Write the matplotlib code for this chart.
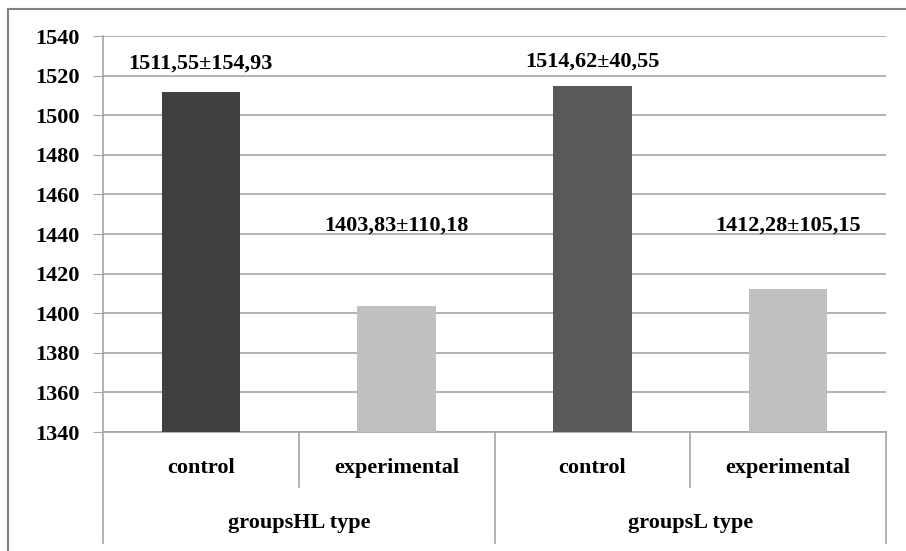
import numpy as np
import matplotlib.pyplot as plt
from matplotlib.patches import Rectangle

plt.rcParams['font.family'] = ['Liberation Serif', 'DejaVu Serif']
plt.rcParams['font.weight'] = 'bold'

categories = ["control", "experimental", "control", "experimental"]
groups = ["groupsHL type", "groupsL type"]
values = [1511.55, 1403.83, 1514.62, 1412.28]
labels = ["1511,55±154,93", "1403,83±110,18", "1514,62±40,55", "1412,28±105,15"]
label_y = [1526, 1444, 1527, 1444]
colors = ["#404040", "#c0c0c0", "#595959", "#c0c0c0"]

fs = 16

fig = plt.figure(figsize=(9.06, 5.51), dpi=100)
ax = fig.add_axes([103/906, 1-432/551, 783/906, 396/551])

x = np.arange(len(values))
ax.bar(x, [v - 1340 for v in values], bottom=1340, width=0.4, color=colors, zorder=3)
ax.set_xlim(-0.5, 3.5)
ax.set_ylim(1340, 1540)
ax.set_yticks(np.arange(1340, 1541, 20))
ax.yaxis.grid(True, color="#a6a6a6", linewidth=1.2, zorder=0)
ax.tick_params(axis='y', length=7, color="#a6a6a6", labelsize=fs, pad=10)
ax.tick_params(axis='x', bottom=False, labelbottom=False)
for s in ['top', 'right']:
    ax.spines[s].set_visible(False)
for s in ['left', 'bottom']:
    ax.spines[s].set_color("#a6a6a6")
    ax.spines[s].set_linewidth(1.2)

for xi, lab, ly in zip(x, labels, label_y):
    ax.text(xi, ly, lab, ha='center', va='center', fontsize=fs, fontweight='bold')

tr = ax.get_xaxis_transform()
for xi, c in zip(x, categories):
    ax.text(xi, -0.091, c, transform=tr, ha='center', va='center', fontsize=fs, fontweight='bold')
for gi, g in enumerate(groups):
    ax.text(2 * gi + 0.5, -0.23, g, transform=tr, ha='center', va='center', fontsize=fs, fontweight='bold')

# separators under the axis
for xs in [0.5, 2.5]:
    ax.plot([xs, xs], [0, -0.139], transform=tr, color="#a6a6a6", lw=1.2, clip_on=False)
for xs in [-0.5, 1.5, 3.5]:
    ax.plot([xs, xs], [0, -0.28], transform=tr, color="#a6a6a6", lw=1.2, clip_on=False)

fig.patches.append(Rectangle((8/906, -0.05), 1.0, 1 - 9/551 + 0.05, transform=fig.transFigure,
                             fill=False, edgecolor="#808080", lw=1.5))

plt.savefig("out.png", dpi=100)
